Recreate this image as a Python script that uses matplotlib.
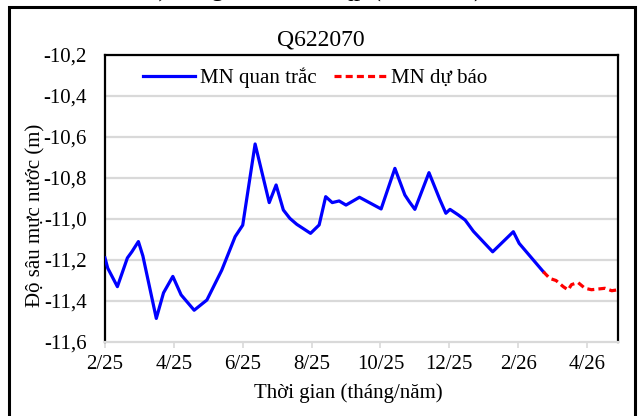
import matplotlib
matplotlib.use("Agg")
import matplotlib.pyplot as plt
from matplotlib.patches import Rectangle

plt.rcParams['font.family'] = ['Liberation Serif', 'DejaVu Serif']

# months since 1 Feb 2025
obs_x = [0.0, 0.08, 0.36, 0.65, 0.78, 0.97, 1.1, 1.49, 1.7, 1.97, 2.21, 2.59, 2.96,
         3.39, 3.78, 4.0, 4.36, 4.77, 4.97, 5.18, 5.37, 5.57, 5.97, 6.22, 6.41,
         6.6, 6.8, 7.0, 7.39, 8.02, 8.42, 8.71, 8.84, 9.0, 9.41, 9.73, 9.9,
         10.02, 10.26, 10.46, 10.7, 11.26, 11.86, 12.03, 12.73]
obs_y = [-11.19, -11.24, -11.33, -11.19, -11.16, -11.11, -11.18, -11.485, -11.36,
         -11.28, -11.37, -11.445, -11.395, -11.25, -11.086, -11.03, -10.634,
         -10.92, -10.834, -10.956, -10.997, -11.026, -11.07, -11.029, -10.891,
         -10.92, -10.912, -10.932, -10.894, -10.951, -10.753, -10.883, -10.916,
         -10.953, -10.774, -10.907, -10.972, -10.953, -10.98, -11.005, -11.06,
         -11.16, -11.062, -11.119, -11.257]
fc_x = [12.73, 12.92, 13.1, 13.31, 13.45, 13.55, 13.74, 13.94, 14.13, 14.52, 14.72, 14.9]
fc_y = [-11.257, -11.29, -11.30, -11.33, -11.346, -11.32, -11.31, -11.338, -11.345,
        -11.338, -11.35, -11.345]

x_ticks = [0, 2, 4, 6, 8, 10, 12, 14]
x_labels = ['2/25', '4/25', '6/25', '8/25', '10/25', '12/25', '2/26', '4/26']
y_ticks = [-11.6, -11.4, -11.2, -11.0, -10.8, -10.6, -10.4, -10.2]
y_labels = ['-11,6', '-11,4', '-11,2', '-11,0', '-10,8', '-10,6', '-10,4', '-10,2']

W, H = 642, 416
fig = plt.figure(figsize=(W / 100, H / 100), dpi=100)
ax = fig.add_axes([105 / W, (H - 342) / H, (618 - 105) / W, (342 - 55) / H])

grid_c = '#d9d9d9'
for yt in y_ticks[1:]:
    ax.axhline(yt, color=grid_c, lw=1.6, zorder=1)

ax.plot(obs_x, obs_y, color='#0000ff', lw=2.3, label='MN quan trắc', zorder=3,
        solid_joinstyle='round')
ax.plot(fc_x, fc_y, color='#ff0000', lw=2.3, ls=(0, (2.2, 1.3)), label='MN dự báo', zorder=3)

ax.set_xlim(0, 14.9)
ax.set_ylim(-11.6, -10.2)
ax.set_xticks(x_ticks)
ax.set_xticklabels(x_labels, fontsize=15)
ax.set_yticks(y_ticks)
ax.set_yticklabels(y_labels, fontsize=15)
ax.tick_params(axis='x', direction='out', length=4.5, width=1.2, color=grid_c, pad=5)
ax.tick_params(axis='y', length=0, pad=13)

for s in ['left', 'top', 'right']:
    ax.spines[s].set_color('black')
    ax.spines[s].set_linewidth(1.6)
ax.spines['bottom'].set_color(grid_c)
ax.spines['bottom'].set_linewidth(1.6)

ax.set_xlabel('Thời gian (tháng/năm)', fontsize=15, va='center')
ax.xaxis.set_label_coords((348 - 105) / 513, (342 - 393) / 287)
ax.set_ylabel('Độ sâu mực nước (m)', fontsize=15, va='center')
ax.yaxis.set_label_coords((36 - 105) / 513, (342 - 215) / 287)

fig.text(0.5, 1 - 40 / H, 'Q622070', fontsize=17, ha='center', va='center')

ax.legend(loc='upper left', bbox_to_anchor=(0.05, 1.0), ncol=2, frameon=False,
          fontsize=15, handlelength=2.5, handletextpad=0.25, columnspacing=0.8,
          borderaxespad=0.2)

# outer frame (cut off at bottom)
fig.patches.append(Rectangle((9 / W, -0.05), (635 - 9) / W, (H - 7) / H + 0.05,
                             transform=fig.transFigure, fill=False, ec='black', lw=2.2,
                             clip_on=False))
# caption of the document, mostly cropped at the top
fig.text(0.49, 1.0 + 11 / H, 'b) Tầng chứa nước qp (Q622070)', fontsize=18,
         ha='center', va='center')

fig.savefig('out.png', dpi=100)
